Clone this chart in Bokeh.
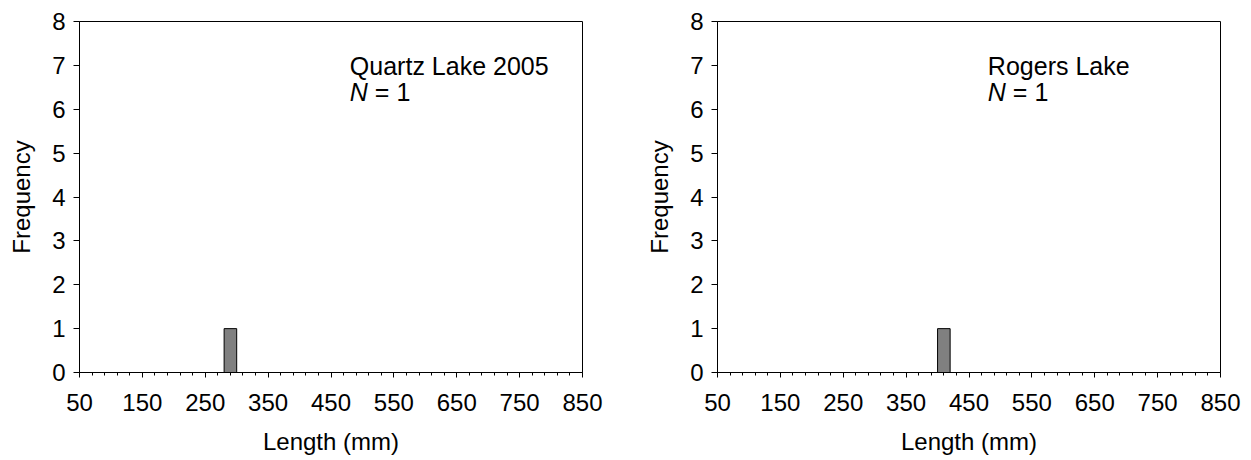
from bokeh.plotting import figure
from bokeh.layouts import row
from bokeh.models import FixedTicker, Range1d, Label
from bokeh.embed import file_html
from bokeh.resources import INLINE

# Data
x_ticks = [50, 150, 250, 350, 450, 550, 650, 750, 850]
x_minor = list(range(50, 851, 20))
y_ticks = [0, 1, 2, 3, 4, 5, 6, 7, 8]

quartz_bins = [290]
quartz_counts = [1]
rogers_bins = [410]
rogers_counts = [1]
bin_width = 20

panels = [
    ("Quartz Lake 2005", "1", quartz_bins, quartz_counts),
    ("Rogers Lake", "1", rogers_bins, rogers_counts),
]

FONT = "Liberation Sans"
FS = "24px"
AFS = "25px"


def make_panel(title, n, bins, counts, width, bl, br):
    p = figure(width=width, height=460, output_backend="svg", toolbar_location=None,
               x_range=Range1d(50, 850), y_range=Range1d(0, 8),
               min_border_left=bl, min_border_right=br, min_border_top=21,
               min_border_bottom=88)
    p.background_fill_color = "white"
    p.border_fill_color = "white"
    p.outline_line_color = "#000000"
    p.outline_line_width = 1
    p.xgrid.visible = False
    p.ygrid.visible = False

    p.vbar(x=bins, top=counts, width=bin_width, bottom=0,
           fill_color="#808080", line_color="#000000", line_width=1)

    xa = p.xaxis[0]
    xa.ticker = FixedTicker(ticks=x_ticks, minor_ticks=x_minor)
    xa.major_tick_out = 5
    xa.major_tick_in = 0
    xa.minor_tick_out = 3
    xa.minor_tick_in = 0
    xa.axis_label = "Length (mm)"
    ya = p.yaxis[0]
    ya.ticker = FixedTicker(ticks=y_ticks)
    ya.major_tick_out = 6
    ya.major_tick_in = 0
    ya.axis_label = "Frequency"
    for ax in (xa, ya):
        ax.axis_line_color = "#000000"
        ax.major_tick_line_color = "#000000"
        ax.minor_tick_line_color = "#000000" if ax is xa else None
        ax.major_label_text_font = FONT
        ax.major_label_text_font_size = FS
        ax.major_label_text_color = "#000000"
        ax.axis_label_text_font = FONT
        ax.axis_label_text_font_size = FS
        ax.axis_label_text_font_style = "normal"
        ax.axis_label_text_color = "#000000"
    xa.major_label_standoff = 16
    xa.axis_label_standoff = 14
    ya.major_label_standoff = 8
    ya.axis_label_standoff = 14

    p.add_layout(Label(x=480, y=6.98, text=title, text_font=FONT, text_font_size=AFS,
                       text_color="#000000", text_baseline="alphabetic"))
    p.add_layout(Label(x=480, y=6.40, text="N", text_font=FONT, text_font_size=AFS,
                       text_font_style="italic", text_color="#000000",
                       text_baseline="alphabetic"))
    p.add_layout(Label(x=480, y=6.40, x_offset=25, text="= " + n, text_font=FONT,
                       text_font_size=AFS, text_color="#000000",
                       text_baseline="alphabetic"))
    return p


p1 = make_panel(*panels[0], width=640, bl=79, br=58)
p2 = make_panel(*panels[1], width=611, bl=77, br=31)
layout = row(p1, p2)

open("out.html", "w").write(file_html(layout, INLINE))
